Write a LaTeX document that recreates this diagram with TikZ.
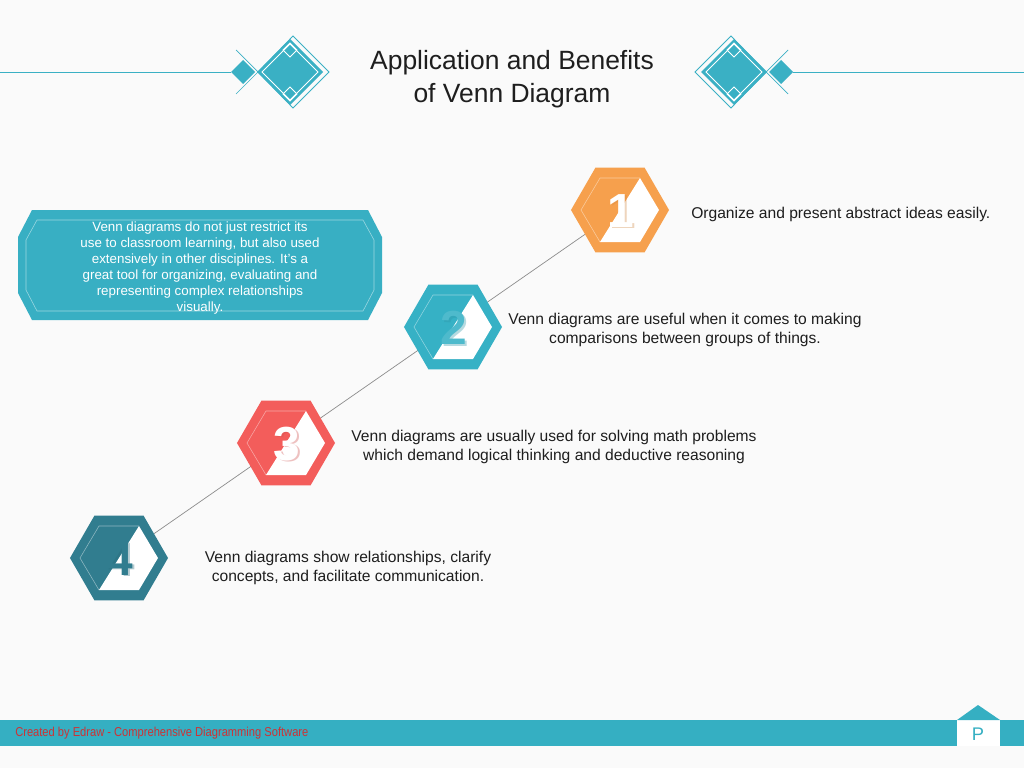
\documentclass[tikz,border=0pt]{standalone}
\usepackage{fontspec}
\setmainfont{Liberation Sans}
\newfontfamily\narrowfont[FakeStretch=0.86]{Liberation Sans}
\usetikzlibrary{shapes.geometric}
\definecolor{bgwhite}{HTML}{FAFAFA}
\definecolor{gemteal}{HTML}{3AB0C4}
\definecolor{hexorange}{HTML}{F6A04D}
\definecolor{hexteal}{HTML}{36B1C5}
\definecolor{hexred}{HTML}{F35D5B}
\definecolor{hexdark}{HTML}{317D8F}
\definecolor{boxteal}{HTML}{38AFC3}
\definecolor{barteal}{HTML}{35AFC2}
\definecolor{footred}{HTML}{CC3336}
\definecolor{ink}{HTML}{1E1E1E}
\pgfdeclarelayer{back}
\pgfsetlayers{back,main}
% header ornament, drawn round (0,0)
\newcommand{\gem}{%
\fill [gemteal] (-46,-12)--(-34,0)--(-46,12)--(-58,0)--cycle;
\draw [gemteal, line width=0.5pt] (-53,-22)--(-31,0)--(-53,22);
\draw [gemteal, line width=0.6pt] (-31,0)--(4,-36)--(40,0)--(4,36)--cycle;
\fill [gemteal] (-32,0)--(1,-33)--(34,0)--(1,33)--cycle;
\draw [white, line width=0.6pt] (-27,0)--(1,-28)--(29,0)--(1,28)--cycle;
\draw [white, line width=0.6pt] (1,-29)--(8,-22)--(1,-15)--(-6,-22)--cycle;
\draw [white, line width=0.6pt] (1,15)--(8,22)--(1,29)--(-6,22)--cycle;
}
% numbered hexagon: name, position, colour, digit, digit colour
\newcommand{\badge}[5]{%
\node [hexa, fill=#3] (#1) at (#2) {};
\begin{scope}[shift={(#1.center)}]
\fill [white] (20,-32)--(39,0)--(20,32)--(-20,32)--cycle;
\draw [white, opacity=0.45, line width=0.4pt] (-20,32)--(-39,0)--(-20,-32)--(20,-32);
\node [digit, text=#3!85!black, opacity=0.35] (#1s) at (2.5,2.5) {#4};
\node [digit, text=#5] (#1n) at (1,1) {#4};
\end{scope}
}

\begin{document}
\begin{tikzpicture}[x=0.025cm,y=-0.025cm,
  hexa/.style={regular polygon, regular polygon sides=6, minimum size=2.45cm, inner sep=0pt},
  digit/.style={font=\fontsize{34}{34}\selectfont\bfseries, inner sep=0pt},
  body/.style={font=\fontsize{11.1}{13.5}\selectfont, text=ink, align=center, inner sep=0pt},
  link/.style={draw=black!45, line width=0.5pt}]
\useasboundingbox (0,0) rectangle (1024,768);
\begin{pgfonlayer}{back}
\fill [bgwhite] (0,0) rectangle (1024,768);
\end{pgfonlayer}

% header
\draw [gemteal, line width=0.6pt] (0,72) -- (231,72);
\draw [gemteal, line width=0.6pt] (793,72) -- (1024,72);
\begin{scope}[shift={(289,72)}] \gem \end{scope}
\begin{scope}[shift={(735,72)}, xscale=-1] \gem \end{scope}
\node [font=\fontsize{18.8}{23}\selectfont, text=ink, align=center] (title) at (512,79) {Application and Benefits\\of Venn Diagram};

% left box
\fill [boxteal] (18,237)--(32,210)--(368,210)--(382,237)--(382,293)--(368,320)--(32,320)--(18,293)--cycle;
\draw [white, opacity=0.5, line width=0.4pt] (26,240)--(37,220)--(363,220)--(374,240)--(374,290)--(363,311)--(37,311)--(26,290)--cycle;
\node [font=\fontsize{9.5}{11.4}\selectfont, text=white, align=center] (intro) at (200,268) {Venn diagrams do not just restrict its\\use to classroom learning, but also used\\extensively in other disciplines. It's a\\great tool for organizing, evaluating and\\representing complex relationships\\visually.};

% hexagons
\badge{h1}{620,210}{hexorange}{1}{white}
\badge{h2}{453,327}{hexteal}{2}{white!12!hexteal}
\badge{h3}{286,443}{hexred}{3}{white}
\badge{h4}{119,558}{hexdark}{4}{hexdark}
\begin{pgfonlayer}{back}
\draw [link] (h4) -- (h1);
\end{pgfonlayer}

\node [body, anchor=west] (t1) at (691,214) {Organize and present abstract ideas easily.};
\node [body] (t2) at (685,330) {Venn diagrams are useful when it comes to making\\comparisons between groups of things.};
\node [body] (t3) at (554,447) {Venn diagrams are usually used for solving math problems\\which demand logical thinking and deductive reasoning};
\node [body] (t4) at (348,568) {Venn diagrams show relationships, clarify\\concepts, and facilitate communication.};

% footer
\fill [barteal] (0,720) rectangle (1024,746);
\fill [white] (957,720) rectangle (1000,746);
\fill [barteal] (957,720) -- (978,705) -- (1000,720) -- cycle;
\node [text=barteal, font=\fontsize{13}{13}\selectfont] (page) at (978,734) {P};
\node [anchor=west, inner sep=0pt, text=footred, font=\narrowfont\fontsize{9.2}{9.2}\selectfont] (credit) at (15,733) {Created by Edraw - Comprehensive Diagramming Software};
\end{tikzpicture}
\end{document}
